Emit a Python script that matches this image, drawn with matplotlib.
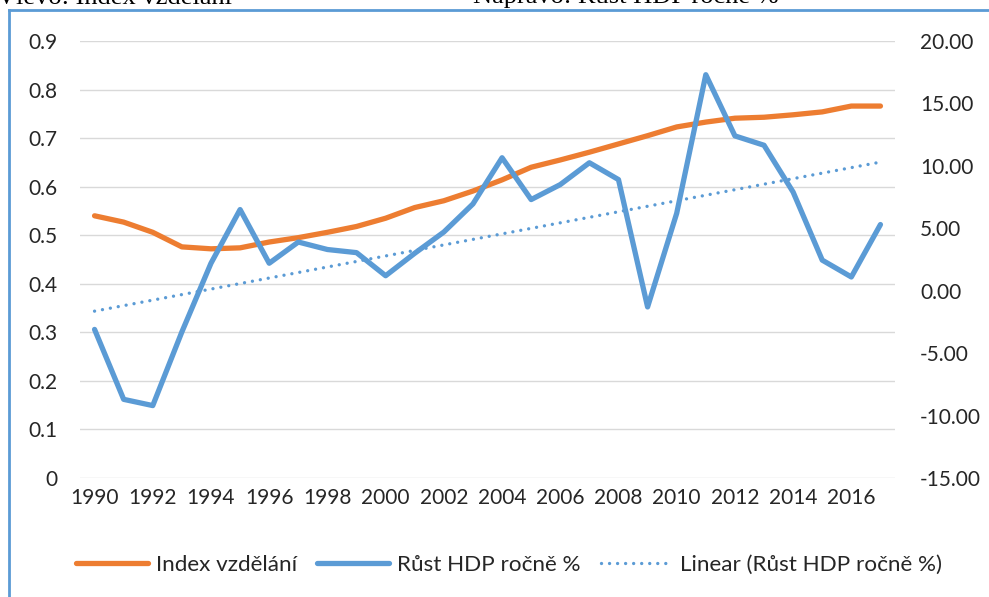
import numpy as np
import matplotlib
matplotlib.use("Agg")
import matplotlib.pyplot as plt
from matplotlib.lines import Line2D

years = list(range(1990, 2018))
index_vzdelani = [0.540, 0.527, 0.506, 0.476, 0.472, 0.474, 0.486, 0.495, 0.506, 0.518,
                  0.535, 0.557, 0.571, 0.591, 0.614, 0.640, 0.655, 0.671, 0.688, 0.705,
                  0.723, 0.733, 0.741, 0.743, 0.748, 0.754, 0.766, 0.766]
rust_hdp = [-3.1, -8.7, -9.2, -3.3, 2.2, 6.5, 2.2, 3.9, 3.3, 3.05,
            1.2, 3.0, 4.7, 6.95, 10.65, 7.3, 8.5, 10.25, 8.9, -1.3,
            6.2, 17.3, 12.4, 11.65, 7.9, 2.45, 1.1, 5.3]
left_ticks = [0, 0.1, 0.2, 0.3, 0.4, 0.5, 0.6, 0.7, 0.8, 0.9]
right_ticks = [-15, -10, -5, 0, 5, 10, 15, 20]

ORANGE = "#ED7D31"
BLUE = "#5B9BD5"
FONT = "Lato"
FS = 15

W, H = 989, 597
fig = plt.figure(figsize=(W / 100, H / 100), dpi=100)
ax = fig.add_axes([80 / W, 1 - 478 / H, (895 - 80) / W, (478 - 41) / H])
ax2 = ax.twinx()

x = np.arange(len(years))
ax.plot(x, index_vzdelani, color=ORANGE, lw=3.8, solid_capstyle="round",
        solid_joinstyle="round", label="Index vzdělání", zorder=3)
ax2.plot(x, rust_hdp, color=BLUE, lw=3.8, solid_capstyle="round",
         solid_joinstyle="round", label="Růst HDP ročně %", zorder=3)
coef = np.polyfit(x, rust_hdp, 1)
ax2.plot(x, np.polyval(coef, x), color=BLUE, lw=2.4, linestyle=(0, (0.01, 2.4)),
         dash_capstyle="round", label="Linear (Růst HDP ročně %)", zorder=2)

ax.set_xlim(-0.5, len(years) - 0.5)
ax.set_ylim(0, 0.9)
ax2.set_ylim(-15, 20)
ax.set_yticks(left_ticks)
ax.set_yticklabels(["0" if t == 0 else f"{t:.1f}" for t in left_ticks])
ax2.set_yticks(right_ticks)
ax2.set_yticklabels([f"{t:.2f}" for t in right_ticks])
ax.set_xticks(x[::2])
ax.set_xticklabels([str(y) for y in years[::2]])

ax.grid(axis="y", color="#D9D9D9", lw=1.0)
ax.set_axisbelow(True)
for a in (ax, ax2):
    for s in a.spines.values():
        s.set_visible(False)
    a.tick_params(length=0, labelsize=FS, labelcolor="#262626")
    for lab in a.get_xticklabels() + a.get_yticklabels():
        lab.set_fontfamily(FONT)
ax.tick_params(axis="y", pad=16.5)
ax.tick_params(axis="x", pad=7)
ax2.tick_params(axis="y", pad=18)

h1, l1 = ax.get_legend_handles_labels()
h2, l2 = ax2.get_legend_handles_labels()
fig.legend(h1 + h2, l1 + l2, loc="center", bbox_to_anchor=(509 / W, 1 - 565 / H),
           ncol=3, frameon=False, prop={"family": FONT, "size": 16.2},
           handlelength=3.2, handletextpad=0.35, columnspacing=0.9, labelcolor="#262626")

# frame
fig.add_artist(Line2D([9 / W, 1], [1 - 10 / H, 1 - 10 / H], color=BLUE, lw=2,
                      transform=fig.transFigure))
fig.add_artist(Line2D([9 / W, 9 / W], [0, 1 - 10 / H], color=BLUE, lw=2,
                      transform=fig.transFigure))

fig.text(-3 / W, 1 - 3.5 / H, "Vlevo: Index vzdělání", family="Liberation Serif",
         size=19, va="baseline", ha="left")
fig.text(473 / W, 1 - 3.5 / H, "Napravo: Růst HDP ročně %", family="Liberation Serif",
         size=19, va="baseline", ha="left")

fig.savefig("out.png", dpi=100)
